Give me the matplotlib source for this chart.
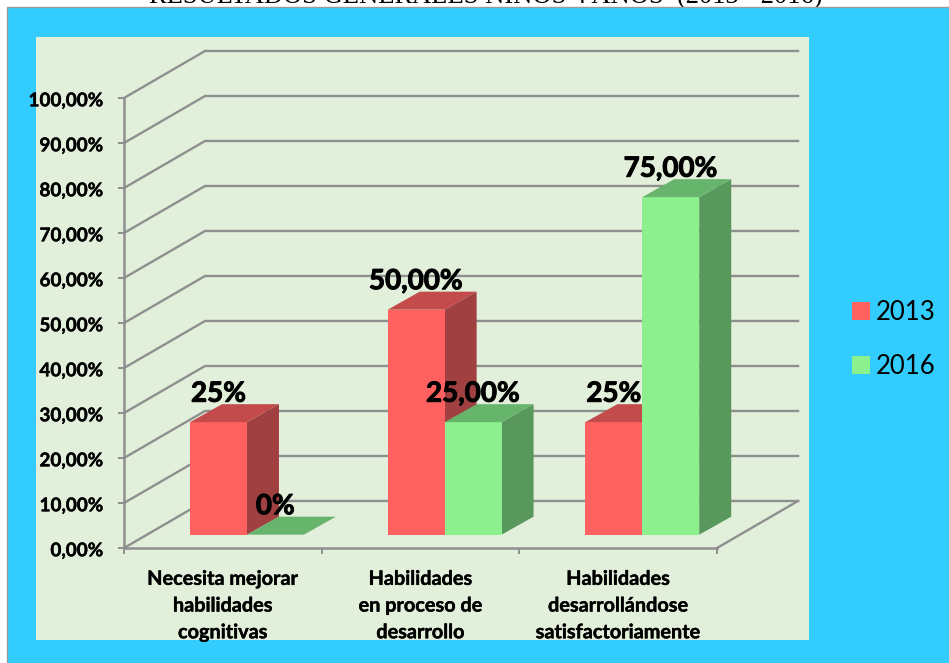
import matplotlib
matplotlib.use("Agg")
import matplotlib.patheffects as pe
import matplotlib.pyplot as plt
from matplotlib.patches import Patch, Polygon, Rectangle

W, H = 949, 663

categories = ["Necesita mejorar\nhabilidades\ncognitivas",
              "Habilidades\nen proceso de\ndesarrollo",
              "Habilidades\ndesarrollándose\nsatisfactoriamente"]
series_names = ["2013", "2016"]
values_2013 = [25, 50, 25]
values_2016 = [0, 25, 75]
labels_2013 = ["25%", "50,00%", "25%"]
labels_2016 = ["0%", "25,00%", "75,00%"]
y_ticks = list(range(0, 101, 10))
y_tick_labels = [f"{v},00%" for v in y_ticks]

RED = ("#FF6161", "#C44B4B", "#A04040")
GREEN = ("#8CF08F", "#67B46C", "#59985C")
GRID = "#8F8F8F"

# oblique depth of the chart box and of the bars, in data units
WALL_DX, WALL_DY = 0.41, 10.45
BAR_DX, BAR_DY = 0.162, 4.0
BAR_LEFT, BAR_W = 0.334, 0.288
BAR_BASE = 2.96

plt.rcParams["font.family"] = ["Lato", "DejaVu Sans"]


def px_rect(fig, x0, y0, x1, y1, **kw):
    fig.add_artist(Rectangle((x0 / W, 1 - y1 / H), (x1 - x0) / W, (y1 - y0) / H,
                             transform=fig.transFigure, **kw))


def thicken(text, width):
    # Lato is lighter than the original bold, so fatten the glyphs a little
    text.set_path_effects([pe.withStroke(linewidth=width, foreground="black")])


def draw_bar(ax, x, value, colors):
    top = BAR_BASE + value
    right = x + BAR_W
    ax.add_patch(Polygon([(right, BAR_BASE), (right + BAR_DX, BAR_BASE + BAR_DY),
                          (right + BAR_DX, top + BAR_DY), (right, top)],
                         facecolor=colors[2], edgecolor="none", clip_on=False, zorder=3))
    ax.add_patch(Rectangle((x, BAR_BASE), BAR_W, value, facecolor=colors[0],
                           edgecolor="none", clip_on=False, zorder=3))
    ax.add_patch(Polygon([(x, top), (right, top), (right + BAR_DX, top + BAR_DY),
                          (x + BAR_DX, top + BAR_DY)],
                         facecolor=colors[1], edgecolor="none", clip_on=False, zorder=3))


def main():
    fig = plt.figure(figsize=(W / 100, H / 100), dpi=100, facecolor="white")

    fig.text(485.5 / W, 1 - 3 / H, "RESULTADOS GENERALES NIÑOS 4 AÑOS  (2013 - 2016)",
             family="Liberation Serif", fontsize=19.1, ha="center", va="baseline", zorder=0)
    px_rect(fig, 7, 7, W + 5, H + 5, facecolor="#33CCFF", edgecolor="#9A9A9A", linewidth=1, zorder=1)
    px_rect(fig, 36, 37, 809, 640, facecolor="#E2EFDA", edgecolor="none", zorder=2)

    ax = fig.add_axes([124 / W, 1 - 548 / H, 593 / W, 450 / H], zorder=3)
    ax.patch.set_visible(False)
    ax.set_xlim(0, 3)
    ax.set_ylim(0, 100)

    for v in y_ticks:
        ax.plot([0, WALL_DX, 3 + WALL_DX], [v, v + WALL_DY, v + WALL_DY],
                color=GRID, lw=1.7, clip_on=False, zorder=1)
    ax.plot([3, 3 + WALL_DX], [0, WALL_DY], color=GRID, lw=1.7, clip_on=False, zorder=1)

    for i in range(len(categories)):
        draw_bar(ax, i + BAR_LEFT, values_2013[i], RED)
        draw_bar(ax, i + BAR_LEFT + BAR_W, values_2016[i], GREEN)
        for offset, value, label in ((0, values_2013[i], labels_2013[i]),
                                     (BAR_W, values_2016[i], labels_2016[i])):
            t = ax.annotate(label, (i + BAR_LEFT + offset + BAR_W / 2, BAR_BASE + value),
                            xytext=(0, 20.5), textcoords="offset points", ha="center", va="center",
                            fontsize=20, fontweight="bold", color="black", zorder=6,
                            annotation_clip=False)
            thicken(t, 0.7)

    for side in ("top", "right"):
        ax.spines[side].set_visible(False)
    for side in ("left", "bottom"):
        ax.spines[side].set_color(GRID)
        ax.spines[side].set_linewidth(1.8)

    ax.set_yticks(y_ticks)
    ax.set_yticklabels([])
    for v, label in zip(y_ticks, y_tick_labels):
        t = ax.annotate(label, (0, v), xytext=(-15, -2), textcoords="offset points",
                        ha="right", va="center", fontsize=13.6, fontweight="bold",
                        annotation_clip=False)
        thicken(t, 0.3)
    ax.set_xticks([0, 1, 2, 3])
    ax.set_xticklabels([])
    ax.tick_params(axis="both", color=GRID, width=1.4, length=4.5)
    for i, cat in enumerate(categories):
        t = ax.annotate(cat, (i + 0.5, 0), xytext=(0, -15), textcoords="offset points",
                        ha="center", va="top", fontsize=14.3, fontweight="bold",
                        linespacing=1.42, annotation_clip=False)
        thicken(t, 0.3)

    handles = [Patch(facecolor=RED[0], label=series_names[0]),
               Patch(facecolor=GREEN[0], label=series_names[1])]
    fig.legend(handles=handles, loc="center left", bbox_to_anchor=(852 / W, 1 - 339.5 / H),
               frameon=False, fontsize=18.5, handlelength=0.7, handleheight=0.7,
               handletextpad=0.23, labelspacing=1.1, borderaxespad=0, borderpad=0)

    fig.savefig("out.png", dpi=100)


if __name__ == "__main__":
    main()
